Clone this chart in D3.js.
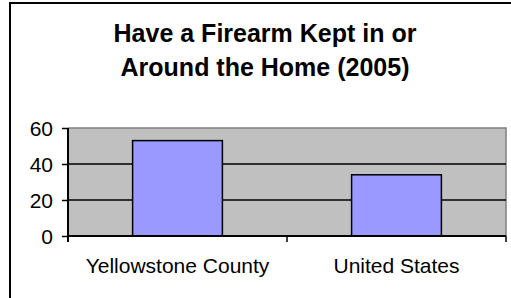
<!DOCTYPE html>
<html lang="en">
<head>
<meta charset="UTF-8">
<title>Have a Firearm Kept in or Around the Home (2005)</title>
<script src="https://d3js.org/d3.v7.min.js"></script>
<style>
  body { margin: 0; background: #fff; }
  svg { display: block; font-family: "Liberation Sans", Arial, sans-serif; }
</style>
</head>
<body>
<svg width="511" height="298"></svg>
<script>
const categories = ["Yellowstone County", "United States"];
const values = [53, 34];
const yTicks = [0, 20, 40, 60];
const titleLines = ["Have a Firearm Kept in or", "Around the Home (2005)"];

const svg = d3.select("svg");
const plot = { left: 68, right: 506, top: 128, bottom: 236 };

// chart frame
svg.append("rect")
  .attr("x", 10).attr("y", 3)
  .attr("width", 510).attr("height", 310)
  .attr("fill", "#fff")
  .attr("stroke", "#000").attr("stroke-width", 2);

// title
svg.append("text")
  .attr("text-anchor", "middle")
  .attr("font-weight", "bold")
  .attr("font-size", 25)
  .selectAll("tspan")
  .data(titleLines)
  .join("tspan")
  .attr("x", 265)
  .attr("y", (d, i) => 42 + i * 34)
  .text(d => d);

const x = d3.scaleBand()
  .domain(categories)
  .range([plot.left, plot.right])
  .paddingInner(0.59)
  .paddingOuter(0.295);

const y = d3.scaleLinear()
  .domain([0, 60])
  .range([plot.bottom, plot.top]);

// plot area
svg.append("rect")
  .attr("x", plot.left).attr("y", plot.top)
  .attr("width", plot.right - plot.left)
  .attr("height", plot.bottom - plot.top)
  .attr("fill", "#c0c0c0");

svg.append("path")
  .attr("d", `M${plot.left},${plot.top}H${plot.right}V${plot.bottom}`)
  .attr("fill", "none")
  .attr("stroke", "#808080")
  .attr("stroke-width", 1.5);

// gridlines
svg.append("g")
  .selectAll("line")
  .data(yTicks.filter(d => d > 0 && d < 60))
  .join("line")
  .attr("x1", plot.left).attr("x2", plot.right)
  .attr("y1", d => y(d)).attr("y2", d => y(d))
  .attr("stroke", "#000").attr("stroke-width", 1.5);

// bars
svg.append("g")
  .selectAll("rect")
  .data(values)
  .join("rect")
  .attr("x", (d, i) => x(categories[i]))
  .attr("y", d => y(d))
  .attr("width", x.bandwidth())
  .attr("height", d => y(0) - y(d))
  .attr("fill", "#9999ff")
  .attr("stroke", "#000")
  .attr("stroke-width", 1.5);

// y axis
const yAxis = svg.append("g")
  .attr("transform", `translate(${plot.left},0)`)
  .call(d3.axisLeft(y).tickValues(yTicks).tickSize(6).tickPadding(9));
yAxis.select(".domain").attr("stroke", "#000").attr("stroke-width", 2)
  .attr("d", `M0,${plot.top}V${plot.bottom + 6}`);
yAxis.selectAll(".tick line").attr("stroke-width", 1.5);
yAxis.selectAll("text").attr("font-size", 21).attr("font-family", "Liberation Sans, Arial, sans-serif")
  .attr("fill", "#000").attr("dy", "0.35em");

// x axis
const xAxis = svg.append("g")
  .attr("transform", `translate(0,${plot.bottom})`)
  .call(d3.axisBottom(x).tickSize(0).tickPadding(22));
xAxis.select(".domain").attr("stroke", "#000").attr("stroke-width", 2)
  .attr("d", `M${plot.left},0H${plot.right}`);
xAxis.selectAll("text").attr("font-size", 21).attr("font-family", "Liberation Sans, Arial, sans-serif")
  .attr("fill", "#000");

// category separator ticks
const sepTicks = [plot.left, (plot.left + plot.right) / 2, plot.right];
xAxis.append("g")
  .selectAll("line")
  .data(sepTicks)
  .join("line")
  .attr("x1", d => d).attr("x2", d => d)
  .attr("y1", 0).attr("y2", 6)
  .attr("stroke", "#000").attr("stroke-width", 1.5);
</script>
</body>
</html>
